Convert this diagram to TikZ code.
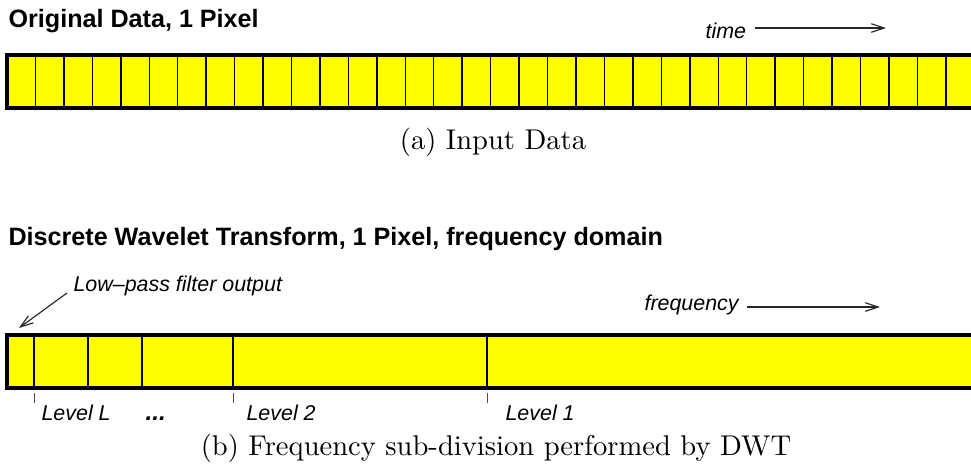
\documentclass[tikz,border=0pt]{standalone}
\usepackage{fontspec}
\newfontfamily\helv{Liberation Sans}
\usetikzlibrary{positioning,arrows.meta,calc}

\definecolor{bandyellow}{RGB}{255,255,0}
\tikzset{
  heading/.style={anchor=base west, inner sep=0pt, font=\helv\bfseries\fontsize{8.8}{10}\selectfont},
  tag/.style={anchor=base west, inner sep=0pt, font=\helv\itshape\fontsize{7.5}{9}\selectfont},
  caption/.style={anchor=base, inner sep=0pt, font=\fontsize{10}{12}\selectfont},
  band/.style={fill=bandyellow, draw=black, line width=1.4pt},
  cell/.style={draw=black, line width=0.5pt},
  pointer/.style={draw=black!85, line width=0.4pt, -{Straight Barb[length=4.5pt,width=3pt]}},
}

\begin{document}
\begin{tikzpicture}[x=0.35pt, y=-0.35pt]
  \clip (0,0) rectangle (971,463);

  % samples in time
  \node[heading] (orig) at (8,27) {Original Data, 1 Pixel};
  \node[tag] (time) at (705,38) {time};
  \coordinate (timeend) at (886,28);
  \draw[pointer, shorten <=2.8pt] (time.east |- timeend) -- (timeend);
  \draw[band] (7,55) rectangle (1000,108);
  \foreach \k in {1,...,33}
    \draw[cell] ({7+28.45*\k},55) -- ({7+28.45*\k},108);
  \node[caption] (capa) at (493,149) {(a) Input Data};

  % wavelet levels
  \node[heading] (dwt) at (8,245) {Discrete Wavelet Transform, 1 Pixel, frequency domain};
  \node[tag] (lowpass) at (73,291) {Low–pass filter output};
  \coordinate (lowtip) at (19,328);
  \draw[pointer] ($(lowpass.base west)+(-6,2)$) -- (lowtip);
  \node[tag] (freq) at (644,310) {frequency};
  \coordinate (freqend) at (880,307);
  \draw[pointer, shorten <=2.8pt] (freq.east |- freqend) -- (freqend);
  \draw[band] (7,335) rectangle (1000,388);
  \foreach \x in {34,88,142,233,487}
    \draw[cell] (\x,335) -- (\x,388);
  \foreach \x in {34,233,487}
    \draw[black!70, line width=0.35pt] (\x,393) -- (\x,403);
  \node[tag] (lvlL) at (41,420) {Level L};
  \node[tag, font=\helv\bfseries\itshape\fontsize{8.5}{9}\selectfont] (dots) at (145,420) {...};
  \node[tag] (lvl2) at (246,420) {Level 2};
  \node[tag] (lvl1) at (505,420) {Level 1};
  \node[caption] (capb) at (496,455) {(b) Frequency sub-division performed by DWT};
\end{tikzpicture}
\end{document}
